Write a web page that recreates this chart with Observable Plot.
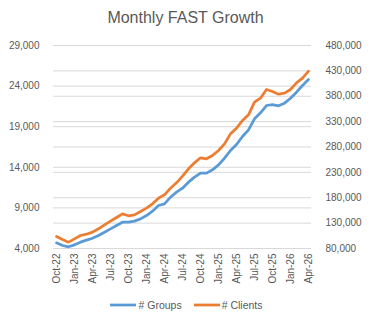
<!DOCTYPE html>
<html>
<head>
<meta charset="utf-8">
<script src="https://cdn.jsdelivr.net/npm/d3@7"></script>
<script src="https://cdn.jsdelivr.net/npm/@observablehq/plot@0.6"></script>
<style>
  html, body { margin: 0; padding: 0; background: #fff; }
  body { width: 371px; height: 318px; overflow: hidden; font-family: "Liberation Sans", Arial, sans-serif; color: #595959; }
  #title { height: 34px; line-height: 36px; text-align: center; font-size: 16px; color: #595959; }
  #legend { height: 26px; display: flex; justify-content: center; align-items: center; font-size: 10.5px; gap: 12px; padding-left: 2px; }
  #legend span { display: inline-flex; align-items: center; }
  #legend svg { margin-right: 2px; }
</style>
</head>
<body>
<div id="title">Monthly FAST Growth</div>
<div id="chart"></div>
<div id="legend"></div>
<script>
// Month categories, October 2022 through April 2026
const months = [
  "Oct-22","Nov-22","Dec-22",
  "Jan-23","Feb-23","Mar-23","Apr-23","May-23","Jun-23","Jul-23","Aug-23","Sep-23","Oct-23","Nov-23","Dec-23",
  "Jan-24","Feb-24","Mar-24","Apr-24","May-24","Jun-24","Jul-24","Aug-24","Sep-24","Oct-24","Nov-24","Dec-24",
  "Jan-25","Feb-25","Mar-25","Apr-25","May-25","Jun-25","Jul-25","Aug-25","Sep-25","Oct-25","Nov-25","Dec-25",
  "Jan-26","Feb-26","Mar-26","Apr-26"
];

// # Groups (left axis)
const groups = [
  4700, 4370, 4210, 4450, 4780, 5030, 5270, 5600, 6010, 6420, 6830, 7240,
  7240, 7370, 7650, 8060, 8600, 9300, 9500, 10320, 10940, 11430, 12170, 12790,
  13280, 13280, 13690, 14300, 15120, 16070, 16810, 17790, 18610, 19970, 20710, 21610,
  21730, 21570, 21900, 22510, 23250, 24070, 24810
];

// # Clients (right axis)
const clients = [
  103600, 97700, 92500, 99000, 105600, 108200, 112200, 118800, 126600, 133900, 141100, 148300,
  144400, 146300, 152900, 159500, 168000, 179200, 185800, 198900, 209400, 222500, 237000, 248800,
  258700, 256700, 263200, 273100, 286200, 305900, 317100, 332200, 343400, 368300, 376200, 393300,
  389400, 384100, 386000, 393300, 406400, 415600, 429400
];

const leftTicks = [4000, 9000, 14000, 19000, 24000, 29000];
const rightTicks = [80000, 130000, 180000, 230000, 280000, 330000, 380000, 430000, 480000];
const xTickLabels = ["Oct-22","Jan-23","Apr-23","Jul-23","Oct-23","Jan-24","Apr-24","Jul-24","Oct-24","Jan-25","Apr-25","Jul-25","Oct-25","Jan-26","Apr-26"];

const colorGroups = "#5B9BD5";
const colorClients = "#ED7D31";

// Map the right-axis domain onto the left-axis domain
const leftDomain = [4000, 29000];
const rightDomain = [80000, 480000];
const toLeft = d3.scaleLinear(rightDomain, leftDomain);

const rowsGroups = months.map((m, i) => ({month: m, value: groups[i]}));
const rowsClients = months.map((m, i) => ({month: m, value: toLeft(clients[i])}));

const fmt = d3.format(",");

const chart = Plot.plot({
  width: 371,
  height: 258,
  marginTop: 11,
  marginBottom: 44,
  marginLeft: 53,
  marginRight: 60,
  style: {fontFamily: "Liberation Sans, Arial, sans-serif", fontSize: "10px", color: "#595959", background: "#fff"},
  x: {type: "point", domain: months, padding: 0.5, axis: null},
  y: {domain: leftDomain, axis: null},
  marks: [
    Plot.gridY(rightTicks.map(toLeft), {stroke: "#d9d9d9", strokeOpacity: 1}),
    Plot.gridY(leftTicks, {stroke: "#d9d9d9", strokeOpacity: 1}),
    Plot.axisY(leftTicks, {anchor: "left", label: null, tickSize: 0, tickPadding: 14, tickFormat: fmt, fill: "#595959"}),
    Plot.axisY(rightTicks.map(toLeft), {anchor: "right", label: null, tickSize: 0, tickPadding: 14, tickFormat: (d) => fmt(Math.round(toLeft.invert(d))), fill: "#595959", textAnchor: "start"}),
    Plot.axisX(xTickLabels, {label: null, tickSize: 0, tickPadding: 5, tickRotate: -90, fill: "#595959"}),
    Plot.line(rowsGroups, {x: "month", y: "value", stroke: colorGroups, strokeWidth: 2.75, strokeLinejoin: "round", strokeLinecap: "round"}),
    Plot.line(rowsClients, {x: "month", y: "value", stroke: colorClients, strokeWidth: 2.75, strokeLinejoin: "round", strokeLinecap: "round"})
  ]
});
document.getElementById("chart").appendChild(chart);

// Legend below the chart
const legend = document.getElementById("legend");
[["# Groups", colorGroups], ["# Clients", colorClients]].forEach(([label, color]) => {
  const item = document.createElement("span");
  item.innerHTML = `<svg width="26" height="6"><line x1="0" y1="3" x2="26" y2="3" stroke="${color}" stroke-width="2.75"/></svg>${label}`;
  legend.appendChild(item);
});
</script>
</body>
</html>
